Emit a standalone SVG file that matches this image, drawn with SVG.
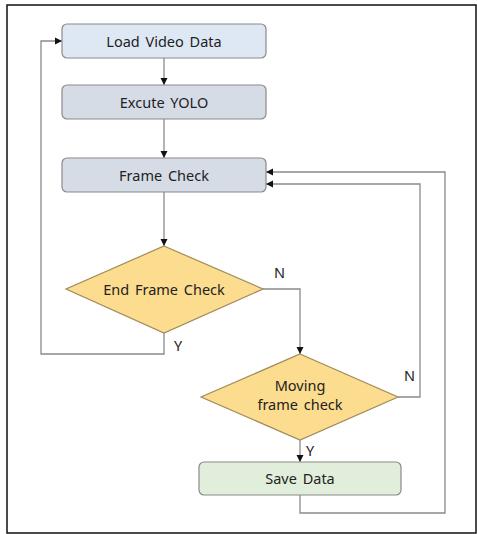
<svg xmlns="http://www.w3.org/2000/svg" width="477" height="534" viewBox="0 0 477 534">
<style>
text{font-family:"Noto Sans","Noto Sans CJK KR",sans-serif;font-size:14.5px;fill:#222;text-anchor:middle;dominant-baseline:central;word-spacing:2px}
.box{stroke:#8a8a8a;stroke-width:1.2}
.dia{fill:#fcdc8e;stroke:#a08a5a;stroke-width:1.2}
.c{fill:none;stroke:#8a8a8a;stroke-width:1.3}
.lbl{text-anchor:start}
</style>
<defs>
<marker id="ah" markerWidth="8" markerHeight="8" refX="7" refY="4" orient="auto" markerUnits="userSpaceOnUse">
<path d="M0,0.5 L7,4 L0,7.5 Z" fill="#111"/>
</marker>
</defs>
<rect x="7" y="5" width="469" height="528" fill="#fff" stroke="#111" stroke-width="1.5"/>
<g id="connectors">
<path class="c" d="M164,58 V85" marker-end="url(#ah)"/>
<path class="c" d="M164,119 V158" marker-end="url(#ah)"/>
<path class="c" d="M164,192 V246" marker-end="url(#ah)"/>
<path class="c" d="M164,333 V354 H41 V41 H62" marker-end="url(#ah)"/>
<path class="c" d="M263,289 H300 V354" marker-end="url(#ah)"/>
<path class="c" d="M398,397 H420 V184 H266" marker-end="url(#ah)"/>
<path class="c" d="M300,440 V462" marker-end="url(#ah)"/>
<path class="c" d="M300,495 V513 H445 V172 H266" marker-end="url(#ah)"/>
</g>
<g id="load">
<rect class="box" x="62" y="24" width="204" height="34" rx="5" fill="#dee8f4"/>
<text x="164" y="41">Load Video Data</text>
</g>
<g id="yolo">
<rect class="box" x="62" y="85" width="204" height="34" rx="5" fill="#d5dce6"/>
<text x="164" y="102">Excute YOLO</text>
</g>
<g id="frame">
<rect class="box" x="62" y="158" width="204" height="34" rx="5" fill="#d5dce6"/>
<text x="164" y="175">Frame Check</text>
</g>
<g id="endframe">
<polygon class="dia" points="164,246 263,289 164,333 66,289"/>
<text x="164" y="289">End Frame Check</text>
</g>
<g id="moving">
<polygon class="dia" points="300,354 398,397 300,440 201,397"/>
<text x="300" y="385">Moving</text>
<text x="300" y="404">frame check</text>
</g>
<g id="save">
<rect class="box" x="199" y="462" width="202" height="33" rx="5" fill="#e1eedb"/>
<text x="300" y="478">Save Data</text>
</g>
<g id="labels">
<text class="lbl" x="274" y="272">N</text>
<text class="lbl" x="174" y="345">Y</text>
<text class="lbl" x="404" y="375">N</text>
<text class="lbl" x="306" y="450">Y</text>
</g>
</svg>
